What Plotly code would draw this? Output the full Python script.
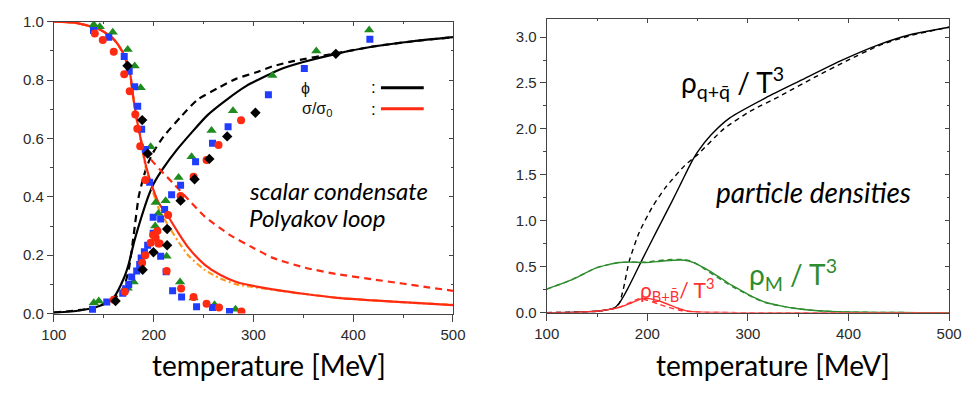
import plotly.graph_objects as go

# ---------------- Left panel data ----------------
T_phi = [100,120,140,150,160,170,175,180,185,190,195,200,210,223,238,254,274,293,313,329,350,383,420,460,500]
phi_solid = [0.003,0.008,0.02,0.032,0.055,0.12,0.17,0.24,0.30,0.355,0.405,0.445,0.50,0.56,0.62,0.68,0.735,0.78,0.815,0.84,0.862,0.89,0.915,0.933,0.947]
T_phid = [100,140,160,170,175,180,185,190,195,200,210,228,244,264,283,303,319,340,380,420,460,500]
phi_dashed = [0.003,0.02,0.05,0.09,0.15,0.27,0.40,0.47,0.52,0.555,0.607,0.677,0.733,0.772,0.805,0.827,0.847,0.865,0.89,0.915,0.933,0.947]

T_sig = [100,120,130,147,160,169,176,179,183,186,192,199,205,215,225,235,251,267,283,319,350,384,449,500]
sig_solid = [1.0,0.997,0.99,0.972,0.94,0.895,0.83,0.754,0.667,0.616,0.51,0.431,0.38,0.33,0.275,0.225,0.168,0.132,0.108,0.083,0.068,0.054,0.039,0.029]
T_sigd = [100,120,130,147,160,169,176,179,183,186,190,198,210,220,235,251,277,300,320,352,384,420,449,475,500]
sig_dashed = [1.0,0.997,0.99,0.972,0.94,0.895,0.83,0.754,0.667,0.616,0.56,0.525,0.48,0.445,0.39,0.333,0.268,0.225,0.19,0.157,0.135,0.117,0.103,0.09,0.078]
T_sigo = [100,120,130,147,160,169,176,179,183,186,192,199,205,215,225,235,251,267,283,320,350,384,449,500]
sig_orange = [1.0,0.997,0.99,0.972,0.94,0.895,0.83,0.754,0.667,0.62,0.50,0.42,0.36,0.30,0.245,0.198,0.15,0.12,0.10,0.082,0.068,0.054,0.039,0.03]

# lattice data (condensate / Polyakov loop)
green_T_cond = [140,146,159,174,181,187,197,202,213,226.5,240,261,282]
green_y_cond = [0.99,0.983,0.964,0.905,0.848,0.774,0.572,0.381,0.196,0.108,0.053,0.03,0.015]
green_T_pol = [140,145,174,180,201.5,204.7,212,225,238,258,279.5,319,363,416]
green_y_pol = [0.037,0.043,0.087,0.108,0.30,0.343,0.387,0.466,0.537,0.627,0.695,0.816,0.9,0.972]

blue_T_cond = [139.7,155,170.5,175.5,181,184,188,191.7,196,207,212.5,219,228,243,259,276]
blue_y_cond = [0.97,0.947,0.881,0.83,0.777,0.71,0.632,0.562,0.45,0.196,0.143,0.078,0.057,0.023,0.021,0.007]
blue_T_pol = [138.7,153,169,172,175,178,183,186,187.5,190.7,194,199.5,199.5,207,211,218,227,242,259,274.6,315,351,416.7]
blue_y_pol = [0.015,0.04,0.07,0.085,0.1,0.125,0.146,0.168,0.19,0.212,0.234,0.275,0.33,0.324,0.357,0.407,0.44,0.52,0.584,0.64,0.75,0.84,0.94]

red_T_cond = [141,149,160,170.5,176,181.6,183.6,186.5,191.7,202,206,213,227.5,240,253,265.5,288]
red_y_cond = [0.96,0.937,0.897,0.82,0.762,0.682,0.633,0.573,0.458,0.26,0.24,0.146,0.086,0.057,0.034,0.021,0.007]
red_T_pol = [160,171,188.5,191.7,197,199.5,203.7,204.7,214.5,227,240,253,265,287.6]
red_y_pol = [0.047,0.075,0.174,0.2,0.243,0.269,0.283,0.24,0.338,0.403,0.469,0.526,0.578,0.662]

black_T_cond = [173.8,188.5,194,213.5]
black_y_cond = [0.849,0.663,0.548,0.29]
black_T_pol = [161.8,189,199.8,213.5,227,241,255.8,273.7,302,382.6]
black_y_pol = [0.043,0.15,0.21,0.234,0.387,0.46,0.53,0.607,0.688,0.89]

# ---------------- Right panel data ----------------
T_q = [100,130,150,160,167,172,176,180,186,195,208,224,234,243,250,263,282,318,353,392,431,463,500]
q_solid = [0.0,0.005,0.015,0.03,0.05,0.1,0.17,0.25,0.38,0.58,0.86,1.2,1.42,1.62,1.75,1.93,2.12,2.34,2.53,2.74,2.92,3.03,3.107]
T_qd = [100,130,150,160,167,172,176,182,192,205,218,237,250,276,302,334,366,398,431,463,500]
q_dashed = [0.0,0.005,0.015,0.03,0.05,0.1,0.25,0.56,0.875,1.15,1.36,1.6,1.72,2.0,2.19,2.37,2.56,2.74,2.91,3.02,3.107]

T_M = [100,124,150,172,182,198,210,218,237,246,256,266,276,285,295,306,318,334,350,370,398,430,470,500]
M_solid = [0.256,0.354,0.49,0.545,0.55,0.545,0.555,0.565,0.57,0.545,0.49,0.425,0.354,0.29,0.23,0.165,0.11,0.07,0.042,0.02,0.007,0.002,0.0,0.0]
M_dashed = [0.256,0.354,0.49,0.545,0.55,0.55,0.565,0.575,0.578,0.55,0.48,0.41,0.34,0.28,0.222,0.16,0.107,0.068,0.041,0.02,0.007,0.002,0.0,0.0]

T_B = [100,130,150,165,172.6,185,195,202,208,216,224,230,237,245,253,270,300,500]
B_solid = [0,0.003,0.015,0.04,0.058,0.11,0.152,0.152,0.138,0.11,0.076,0.05,0.024,0.01,0.005,0.001,0,0]
T_Bd = [100,130,150,165,172.6,185,192,200,211,219,227,235,245,260,300,500]
B_dashed = [0,0.003,0.015,0.04,0.06,0.12,0.152,0.135,0.094,0.065,0.04,0.02,0.008,0.002,0,0]

# ---------------- styling ----------------
BLACK = "#000000"
RED = "#ff2a12"
ORANGE = "#ff9a1f"
GREEN = "#1e8c1e"
BLUE = "#1f3cff"
RGREEN = "#2e8b2e"
RRED = "#ff3030"
AX = "#444444"

fig = go.Figure()

def line(x, y, color, dash="solid", width=2.2, xa="x", ya="y"):
    fig.add_trace(go.Scatter(x=x, y=y, mode="lines", xaxis=xa, yaxis=ya,
                             line=dict(color=color, dash=dash, width=width, shape="spline", smoothing=0.6),
                             showlegend=False, hoverinfo="skip"))

def pts(x, y, color, symbol, size=8):
    fig.add_trace(go.Scatter(x=x, y=y, mode="markers", xaxis="x", yaxis="y",
                             marker=dict(color=color, symbol=symbol, size=size, line=dict(width=0)),
                             showlegend=False, hoverinfo="skip"))

# left panel
line(T_phid, phi_dashed, BLACK, dash="7px,5px")
line(T_phi, phi_solid, BLACK)
line(T_sigd, sig_dashed, RED, dash="7px,5px")
line(T_sigo, sig_orange, ORANGE, dash="6px,3px,2px,3px", width=2.2)
line(T_sig, sig_solid, RED)

pts(green_T_cond, green_y_cond, GREEN, "triangle-up", 9)
pts(green_T_pol, green_y_pol, GREEN, "triangle-up", 9)
pts(blue_T_cond, blue_y_cond, BLUE, "square", 7)
pts(blue_T_pol, blue_y_pol, BLUE, "square", 7)
pts(red_T_cond, red_y_cond, RED, "circle", 8)
pts(red_T_pol, red_y_pol, RED, "circle", 8)
pts(black_T_cond, black_y_cond, BLACK, "diamond", 8)
pts(black_T_pol, black_y_pol, BLACK, "diamond", 8)

# right panel
line(T_qd, q_dashed, BLACK, dash="5px,4px", width=1.4, xa="x2", ya="y2")
line(T_q, q_solid, BLACK, width=1.4, xa="x2", ya="y2")
line(T_M, M_dashed, RGREEN, dash="5px,4px", width=1.4, xa="x2", ya="y2")
line(T_M, M_solid, RGREEN, width=1.4, xa="x2", ya="y2")
line(T_Bd, B_dashed, RRED, dash="5px,4px", width=1.4, xa="x2", ya="y2")
line(T_B, B_solid, RRED, width=1.4, xa="x2", ya="y2")

# invisible traces to register mirror axes
for xa, ya in [("x3", "y"), ("x", "y3"), ("x4", "y2"), ("x2", "y4")]:
    fig.add_trace(go.Scatter(x=[300], y=[0.5], xaxis=xa, yaxis=ya, mode="markers",
                             marker=dict(opacity=0), showlegend=False, hoverinfo="skip"))

W, H = 978, 394
xdomL = [42 / W, 452 / W]
xdomR = [548.3 / W, 961.7 / W]
ydomL = [1 - 318.3 / H, 1 - 13.3 / H]
ydomR = [1 - 317.3 / H, 1 - 10.1 / H]

tickfont = dict(family="Liberation Sans, Arial, sans-serif", size=15, color="#2a2a2a")

def base_x(domain, anchor):
    return dict(domain=domain, anchor=anchor, range=[100, 500], dtick=100, tick0=100,
                ticks="outside", ticklen=7, tickwidth=1, tickcolor=AX,
                showline=True, linecolor=AX, linewidth=1, showgrid=False, zeroline=False,
                tickfont=tickfont, minor=dict(dtick=50, ticks="outside", ticklen=3, tickcolor=AX))

def base_y(domain, anchor, rng, dtick, mdtick):
    return dict(domain=domain, anchor=anchor, range=rng, dtick=dtick, tick0=0, tickformat=".1f",
                ticks="outside", ticklen=6, tickwidth=1, tickcolor=AX,
                showline=True, linecolor=AX, linewidth=1, showgrid=False, zeroline=False,
                tickfont=tickfont, minor=dict(dtick=mdtick, ticks="outside", ticklen=3, tickcolor=AX))

def mirror_x(over, anchor):
    return dict(overlaying=over, anchor=anchor, side="top", range=[100, 500], dtick=100, tick0=100,
                ticks="inside", ticklen=4, tickcolor=AX, showticklabels=False,
                showline=True, linecolor=AX, linewidth=1, showgrid=False, zeroline=False,
                minor=dict(dtick=50, ticks="inside", ticklen=2, tickcolor=AX))

def mirror_y(over, anchor, rng, dtick, mdtick):
    return dict(overlaying=over, anchor=anchor, side="right", range=rng, dtick=dtick, tick0=0,
                ticks="inside", ticklen=4, tickcolor=AX, showticklabels=False,
                showline=True, linecolor=AX, linewidth=1, showgrid=False, zeroline=False,
                minor=dict(dtick=mdtick, ticks="inside", ticklen=2, tickcolor=AX))

fig.update_layout(
    width=W, height=H, margin=dict(l=0, r=0, t=0, b=0),
    paper_bgcolor="white", plot_bgcolor="white", showlegend=False,
    xaxis=base_x(xdomL, "y"),
    yaxis=base_y(ydomL, "x", [0, 1.0], 0.2, 0.1),
    xaxis2=base_x(xdomR, "y2"),
    yaxis2=base_y(ydomR, "x2", [0, 3.2], 0.5, 0.25),
    xaxis3=mirror_x("x", "y"),
    yaxis3=mirror_y("y", "x", [0, 1.0], 0.2, 0.1),
    xaxis4=mirror_x("x2", "y2"),
    yaxis4=mirror_y("y2", "x2", [0, 3.2], 0.5, 0.25),
)

CAL = "Lato, Open Sans, sans-serif"
ann = []
# axis titles
ann.append(dict(text="temperature [MeV]", xref="paper", yref="paper", x=263.5 / W, y=1 - 372.5 / H,
                xanchor="center", yanchor="middle", showarrow=False, font=dict(family=CAL, size=28, color="#000")))
ann.append(dict(text="temperature [MeV]", xref="paper", yref="paper", x=781 / W, y=1 - 372.5 / H,
                xanchor="center", yanchor="middle", showarrow=False, font=dict(family=CAL, size=28, color="#000")))
# left annotations
ann.append(dict(text="<i>scalar condensate</i>", xref="x", yref="y", x=294, y=0.42, xanchor="left",
                yanchor="middle", showarrow=False, font=dict(family=CAL, size=24, color="#000")))
ann.append(dict(text="<i>Polyakov loop</i>", xref="x", yref="y", x=294, y=0.329, xanchor="left",
                yanchor="middle", showarrow=False, font=dict(family=CAL, size=24, color="#000")))
# legend
LF = dict(family="Liberation Sans, Arial, sans-serif", size=16, color="#111")
ann.append(dict(text="ϕ", xref="x", yref="y", x=352, y=0.771, xanchor="center", yanchor="middle",
                showarrow=False, font=LF))
ann.append(dict(text="σ/σ<sub>0</sub>", xref="x", yref="y", x=347, y=0.70, xanchor="left", yanchor="middle",
                showarrow=False, font=LF))
ann.append(dict(text=":", xref="x", yref="y", x=420, y=0.775, xanchor="center", yanchor="middle",
                showarrow=False, font=dict(family="Liberation Sans", size=17, color="#000")))
ann.append(dict(text=":", xref="x", yref="y", x=420, y=0.70, xanchor="center", yanchor="middle",
                showarrow=False, font=dict(family="Liberation Sans", size=17, color="#000")))
# right annotations
ann.append(dict(text="ρ<sub>q+q̄</sub> / T<sup>3</sup>", xref="x2", yref="y2", x=231, y=2.5, xanchor="left",
                yanchor="middle", showarrow=False, font=dict(family=CAL, size=28, color="#000")))
ann.append(dict(text="<i>particle densities</i>", xref="x2", yref="y2", x=266, y=1.31, xanchor="left",
                yanchor="middle", showarrow=False, font=dict(family=CAL, size=28, color="#000")))
ann.append(dict(text="ρ<sub>M</sub> / T<sup>3</sup>", xref="x2", yref="y2", x=299, y=0.42, xanchor="left",
                yanchor="middle", showarrow=False, font=dict(family=CAL, size=28, color=RGREEN)))
ann.append(dict(text="ρ<sub>B+B̄</sub>/ T<sup>3</sup>", xref="x2", yref="y2", x=191, y=0.25, xanchor="left",
                yanchor="middle", showarrow=False, font=dict(family=CAL, size=21, color=RRED)))
fig.update_layout(annotations=ann)

# legend keys
fig.add_shape(type="line", xref="x", yref="y", x0=427.8, x1=470.7, y0=0.774, y1=0.774,
              line=dict(color=BLACK, width=3))
fig.add_shape(type="line", xref="x", yref="y", x0=427.8, x1=470.7, y0=0.702, y1=0.702,
              line=dict(color=RED, width=3))

fig.write_html("out.html")
